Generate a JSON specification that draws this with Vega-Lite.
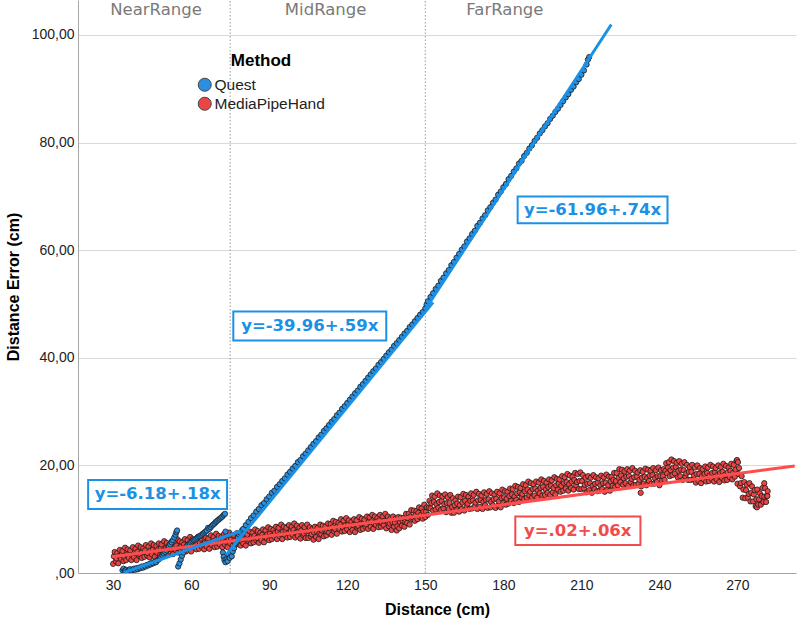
{
  "$schema": "https://vega.github.io/schema/vega-lite/v6.json",
  "width": 718,
  "height": 573,
  "autosize": "none",
  "padding": {"left": 78, "top": 0, "right": 7, "bottom": 54},
  "background": "white",
  "config": {"view": {"stroke": null}, "font": "Liberation Sans"},
  "datasets": {
    "pts": [
      {"m":"M","x":30,"y":1.7},{"m":"M","x":30.3,"y":3.1},{"m":"M","x":30.6,"y":3.9},
      {"m":"M","x":31,"y":2.2},{"m":"M","x":31.3,"y":2.7},{"m":"M","x":31.6,"y":3.7},
      {"m":"M","x":32,"y":1.8},{"m":"M","x":32.3,"y":3.2},{"m":"M","x":32.6,"y":4.3},
      {"m":"M","x":33,"y":2.6},{"m":"M","x":33.3,"y":3.4},{"m":"M","x":33.6,"y":4.1},
      {"m":"M","x":34,"y":2.2},{"m":"M","x":34.3,"y":3.0},{"m":"M","x":34.6,"y":4.7},
      {"m":"M","x":35,"y":2.4},{"m":"M","x":35.3,"y":3.5},{"m":"M","x":35.6,"y":4.4},
      {"m":"M","x":36,"y":2.8},{"m":"M","x":36.3,"y":3.7},{"m":"M","x":36.6,"y":4.2},
      {"m":"M","x":37,"y":2.4},{"m":"M","x":37.3,"y":3.3},{"m":"M","x":37.6,"y":4.8},
      {"m":"M","x":38,"y":2.9},{"m":"M","x":38.3,"y":3.8},{"m":"M","x":38.6,"y":4.5},
      {"m":"M","x":39,"y":2.4},{"m":"M","x":39.3,"y":3.9},{"m":"M","x":39.6,"y":5.1},
      {"m":"M","x":40,"y":3.2},{"m":"M","x":40.3,"y":3.5},{"m":"M","x":40.6,"y":4.8},
      {"m":"M","x":41,"y":2.8},{"m":"M","x":41.3,"y":4.0},{"m":"M","x":41.6,"y":4.6},
      {"m":"M","x":42,"y":3.0},{"m":"M","x":42.3,"y":4.2},{"m":"M","x":42.6,"y":5.2},
      {"m":"M","x":43,"y":3.3},{"m":"M","x":43.3,"y":3.7},{"m":"M","x":43.6,"y":4.9},
      {"m":"M","x":44,"y":2.9},{"m":"M","x":44.3,"y":4.2},{"m":"M","x":44.6,"y":5.5},
      {"m":"M","x":45,"y":3.4},{"m":"M","x":45.3,"y":4.4},{"m":"M","x":45.6,"y":5.2},
      {"m":"M","x":46,"y":3.0},{"m":"M","x":46.3,"y":4.0},{"m":"M","x":46.6,"y":5.0},
      {"m":"M","x":47,"y":3.7},{"m":"M","x":47.3,"y":4.4},{"m":"M","x":47.6,"y":5.5},
      {"m":"M","x":48,"y":3.3},{"m":"M","x":48.3,"y":4.6},{"m":"M","x":48.6,"y":5.3},
      {"m":"M","x":49,"y":3.5},{"m":"M","x":49.3,"y":4.2},{"m":"M","x":49.6,"y":5.9},
      {"m":"M","x":50,"y":3.9},{"m":"M","x":50.3,"y":4.7},{"m":"M","x":50.6,"y":5.6},
      {"m":"M","x":51,"y":3.4},{"m":"M","x":51.3,"y":4.8},{"m":"M","x":51.6,"y":5.3},
      {"m":"M","x":52,"y":3.9},{"m":"M","x":52.3,"y":4.4},{"m":"M","x":52.6,"y":5.9},
      {"m":"M","x":53,"y":3.5},{"m":"M","x":53.3,"y":4.9},{"m":"M","x":53.6,"y":5.7},
      {"m":"M","x":54,"y":4.3},{"m":"M","x":54.3,"y":5.1},{"m":"M","x":54.6,"y":6.3},
      {"m":"M","x":55,"y":3.8},{"m":"M","x":55.3,"y":4.6},{"m":"M","x":55.6,"y":5.9},
      {"m":"M","x":56,"y":4.0},{"m":"M","x":56.3,"y":5.1},{"m":"M","x":56.6,"y":5.7},
      {"m":"M","x":57,"y":4.4},{"m":"M","x":57.3,"y":5.3},{"m":"M","x":57.6,"y":6.3},
      {"m":"M","x":58,"y":4.0},{"m":"M","x":58.3,"y":4.9},{"m":"M","x":58.6,"y":6.1},
      {"m":"M","x":59,"y":4.5},{"m":"M","x":59.3,"y":5.4},{"m":"M","x":59.6,"y":6.7},
      {"m":"M","x":60,"y":4.0},{"m":"M","x":60.3,"y":5.5},{"m":"M","x":60.6,"y":6.3},
      {"m":"M","x":61,"y":4.8},{"m":"M","x":61.3,"y":5.1},{"m":"M","x":61.6,"y":6.1},
      {"m":"M","x":62,"y":4.4},{"m":"M","x":62.3,"y":5.6},{"m":"M","x":62.6,"y":6.7},
      {"m":"M","x":63,"y":4.5},{"m":"M","x":63.3,"y":5.7},{"m":"M","x":63.6,"y":6.4},
      {"m":"M","x":64,"y":4.9},{"m":"M","x":64.3,"y":5.3},{"m":"M","x":64.6,"y":7.0},
      {"m":"M","x":65,"y":4.4},{"m":"M","x":65.3,"y":5.7},{"m":"M","x":65.6,"y":6.6},
      {"m":"M","x":66,"y":4.9},{"m":"M","x":66.3,"y":5.9},{"m":"M","x":66.6,"y":6.4},
      {"m":"M","x":67,"y":4.5},{"m":"M","x":67.3,"y":5.5},{"m":"M","x":67.6,"y":7.0},
      {"m":"M","x":68,"y":5.2},{"m":"M","x":68.3,"y":5.9},{"m":"M","x":68.6,"y":6.7},
      {"m":"M","x":69,"y":4.8},{"m":"M","x":69.3,"y":6.1},{"m":"M","x":69.6,"y":7.3},
      {"m":"M","x":70,"y":4.9},{"m":"M","x":70.3,"y":5.6},{"m":"M","x":70.6,"y":6.9},
      {"m":"M","x":71,"y":5.3},{"m":"M","x":71.3,"y":6.1},{"m":"M","x":71.6,"y":6.7},
      {"m":"M","x":72,"y":4.8},{"m":"M","x":72.3,"y":6.2},{"m":"M","x":72.6,"y":7.2},
      {"m":"M","x":73,"y":5.3},{"m":"M","x":73.3,"y":5.8},{"m":"M","x":73.6,"y":7.0},
      {"m":"M","x":74,"y":4.8},{"m":"M","x":74.3,"y":6.2},{"m":"M","x":74.6,"y":7.5},
      {"m":"M","x":75,"y":5.5},{"m":"M","x":75.3,"y":6.3},{"m":"M","x":75.6,"y":7.1},
      {"m":"M","x":76,"y":5.1},{"m":"M","x":76.3,"y":5.9},{"m":"M","x":76.6,"y":6.9},
      {"m":"M","x":77,"y":5.2},{"m":"M","x":77.3,"y":6.3},{"m":"M","x":77.6,"y":7.4},
      {"m":"M","x":78,"y":5.5},{"m":"M","x":78.3,"y":6.4},{"m":"M","x":78.6,"y":7.1},
      {"m":"M","x":79,"y":5.1},{"m":"M","x":79.3,"y":6.0},{"m":"M","x":79.6,"y":7.7},
      {"m":"M","x":80,"y":5.5},{"m":"M","x":80.3,"y":6.4},{"m":"M","x":80.6,"y":7.3},
      {"m":"M","x":81,"y":5.1},{"m":"M","x":81.3,"y":6.6},{"m":"M","x":81.6,"y":7.1},
      {"m":"M","x":82,"y":5.9},{"m":"M","x":82.3,"y":6.2},{"m":"M","x":82.6,"y":7.7},
      {"m":"M","x":83,"y":5.5},{"m":"M","x":83.3,"y":6.7},{"m":"M","x":83.6,"y":7.5},
      {"m":"M","x":84,"y":5.7},{"m":"M","x":84.3,"y":6.9},{"m":"M","x":84.6,"y":8.1},
      {"m":"M","x":85,"y":6.1},{"m":"M","x":85.3,"y":6.5},{"m":"M","x":85.6,"y":7.8},
      {"m":"M","x":86,"y":5.6},{"m":"M","x":86.3,"y":6.9},{"m":"M","x":86.6,"y":7.5},
      {"m":"M","x":87,"y":6.1},{"m":"M","x":87.3,"y":7.1},{"m":"M","x":87.6,"y":8.1},
      {"m":"M","x":88,"y":5.7},{"m":"M","x":88.3,"y":6.7},{"m":"M","x":88.6,"y":7.9},
      {"m":"M","x":89,"y":6.5},{"m":"M","x":89.3,"y":7.2},{"m":"M","x":89.6,"y":8.5},
      {"m":"M","x":90,"y":6.1},{"m":"M","x":90.3,"y":7.4},{"m":"M","x":90.6,"y":8.2},
      {"m":"M","x":91,"y":6.3},{"m":"M","x":91.3,"y":7.0},{"m":"M","x":91.6,"y":8.0},
      {"m":"M","x":92,"y":6.7},{"m":"M","x":92.3,"y":7.5},{"m":"M","x":92.6,"y":8.6},
      {"m":"M","x":93,"y":6.3},{"m":"M","x":93.3,"y":7.7},{"m":"M","x":93.6,"y":8.4},
      {"m":"M","x":94,"y":6.8},{"m":"M","x":94.3,"y":7.3},{"m":"M","x":94.6,"y":9.0},
      {"m":"M","x":95,"y":6.3},{"m":"M","x":95.3,"y":7.7},{"m":"M","x":95.6,"y":8.6},
      {"m":"M","x":96,"y":7.1},{"m":"M","x":96.3,"y":7.9},{"m":"M","x":96.6,"y":8.4},
      {"m":"M","x":97,"y":6.6},{"m":"M","x":97.3,"y":7.4},{"m":"M","x":97.6,"y":8.9},
      {"m":"M","x":98,"y":6.7},{"m":"M","x":98.3,"y":7.8},{"m":"M","x":98.6,"y":8.6},
      {"m":"M","x":99,"y":7.1},{"m":"M","x":99.3,"y":8.0},{"m":"M","x":99.6,"y":9.2},
      {"m":"M","x":100,"y":6.6},{"m":"M","x":100.3,"y":7.5},{"m":"M","x":100.6,"y":8.8},
      {"m":"M","x":101,"y":6.9},{"m":"M","x":101.3,"y":7.8},{"m":"M","x":101.6,"y":8.4},
      {"m":"M","x":102,"y":6.4},{"m":"M","x":102.3,"y":7.9},{"m":"M","x":102.6,"y":8.9},
      {"m":"M","x":103,"y":7.0},{"m":"M","x":103.3,"y":7.3},{"m":"M","x":103.6,"y":8.5},
      {"m":"M","x":104,"y":6.5},{"m":"M","x":104.3,"y":7.7},{"m":"M","x":104.6,"y":9.0},
      {"m":"M","x":105,"y":6.5},{"m":"M","x":105.3,"y":7.7},{"m":"M","x":105.6,"y":8.5},
      {"m":"M","x":106,"y":6.8},{"m":"M","x":106.3,"y":7.2},{"m":"M","x":106.6,"y":8.2},
      {"m":"M","x":107,"y":6.2},{"m":"M","x":107.3,"y":7.5},{"m":"M","x":107.6,"y":8.6},
      {"m":"M","x":108,"y":6.7},{"m":"M","x":108.3,"y":7.7},{"m":"M","x":108.6,"y":8.4},
      {"m":"M","x":109,"y":6.3},{"m":"M","x":109.3,"y":7.3},{"m":"M","x":109.6,"y":9.0},
      {"m":"M","x":110,"y":7.2},{"m":"M","x":110.3,"y":7.9},{"m":"M","x":110.6,"y":8.8},
      {"m":"M","x":111,"y":6.8},{"m":"M","x":111.3,"y":8.1},{"m":"M","x":111.6,"y":8.6},
      {"m":"M","x":112,"y":7.0},{"m":"M","x":112.3,"y":7.7},{"m":"M","x":112.6,"y":9.2},
      {"m":"M","x":113,"y":7.5},{"m":"M","x":113.3,"y":8.3},{"m":"M","x":113.6,"y":9.1},
      {"m":"M","x":114,"y":7.1},{"m":"M","x":114.3,"y":8.5},{"m":"M","x":114.6,"y":9.7},
      {"m":"M","x":115,"y":7.7},{"m":"M","x":115.3,"y":8.2},{"m":"M","x":115.6,"y":9.5},
      {"m":"M","x":116,"y":7.3},{"m":"M","x":116.3,"y":8.7},{"m":"M","x":116.6,"y":9.3},
      {"m":"M","x":117,"y":8.2},{"m":"M","x":117.3,"y":9.0},{"m":"M","x":117.6,"y":10.0},
      {"m":"M","x":118,"y":7.7},{"m":"M","x":118.3,"y":8.5},{"m":"M","x":118.6,"y":9.7},
      {"m":"M","x":119,"y":7.8},{"m":"M","x":119.3,"y":8.9},{"m":"M","x":119.6,"y":10.2},
      {"m":"M","x":120,"y":8.1},{"m":"M","x":120.3,"y":9.0},{"m":"M","x":120.6,"y":9.8},
      {"m":"M","x":121,"y":7.6},{"m":"M","x":121.3,"y":8.5},{"m":"M","x":121.6,"y":9.5},
      {"m":"M","x":122,"y":8.0},{"m":"M","x":122.3,"y":8.9},{"m":"M","x":122.6,"y":10.0},
      {"m":"M","x":123,"y":7.6},{"m":"M","x":123.3,"y":9.1},{"m":"M","x":123.6,"y":9.8},
      {"m":"M","x":124,"y":8.4},{"m":"M","x":124.3,"y":8.7},{"m":"M","x":124.6,"y":10.4},
      {"m":"M","x":125,"y":8.0},{"m":"M","x":125.3,"y":9.2},{"m":"M","x":125.6,"y":10.1},
      {"m":"M","x":126,"y":8.2},{"m":"M","x":126.3,"y":9.4},{"m":"M","x":126.6,"y":9.9},
      {"m":"M","x":127,"y":8.6},{"m":"M","x":127.3,"y":9.0},{"m":"M","x":127.6,"y":10.5},
      {"m":"M","x":128,"y":8.2},{"m":"M","x":128.3,"y":9.5},{"m":"M","x":128.6,"y":10.3},
      {"m":"M","x":129,"y":8.6},{"m":"M","x":129.3,"y":9.6},{"m":"M","x":129.6,"y":10.8},
      {"m":"M","x":130,"y":8.2},{"m":"M","x":130.3,"y":9.2},{"m":"M","x":130.6,"y":10.5},
      {"m":"M","x":131,"y":8.9},{"m":"M","x":131.3,"y":9.6},{"m":"M","x":131.6,"y":10.2},
      {"m":"M","x":132,"y":8.5},{"m":"M","x":132.3,"y":9.8},{"m":"M","x":132.6,"y":10.8},
      {"m":"M","x":133,"y":8.6},{"m":"M","x":133.3,"y":9.3},{"m":"M","x":133.6,"y":10.5},
      {"m":"M","x":134,"y":8.9},{"m":"M","x":134.3,"y":9.7},{"m":"M","x":134.6,"y":11.0},
      {"m":"M","x":135,"y":8.3},{"m":"M","x":135.3,"y":9.7},{"m":"M","x":135.6,"y":10.5},
      {"m":"M","x":136,"y":8.7},{"m":"M","x":136.3,"y":9.2},{"m":"M","x":136.6,"y":10.2},
      {"m":"M","x":137,"y":8.0},{"m":"M","x":137.3,"y":9.4},{"m":"M","x":137.6,"y":10.5},
      {"m":"M","x":138,"y":8.6},{"m":"M","x":138.3,"y":9.4},{"m":"M","x":138.6,"y":10.1},
      {"m":"M","x":139,"y":7.9},{"m":"M","x":139.3,"y":8.7},{"m":"M","x":139.6,"y":10.4},
      {"m":"M","x":140,"y":8.3},{"m":"M","x":140.3,"y":9.4},{"m":"M","x":140.6,"y":10.3},
      {"m":"M","x":141,"y":8.8},{"m":"M","x":141.3,"y":9.7},{"m":"M","x":141.6,"y":10.2},
      {"m":"M","x":142,"y":8.6},{"m":"M","x":142.3,"y":9.5},{"m":"M","x":142.6,"y":11.0},
      {"m":"M","x":143,"y":9.3},{"m":"M","x":143.3,"y":10.2},{"m":"M","x":143.6,"y":11.0},
      {"m":"M","x":144,"y":9.0},{"m":"M","x":144.3,"y":10.5},{"m":"M","x":144.6,"y":11.7},
      {"m":"M","x":145,"y":10.0},{"m":"M","x":145.3,"y":10.3},{"m":"M","x":145.6,"y":11.6},
      {"m":"M","x":146,"y":9.7},{"m":"M","x":146.3,"y":10.9},{"m":"M","x":146.6,"y":11.5},
      {"m":"M","x":147,"y":10.0},{"m":"M","x":147.3,"y":11.2},{"m":"M","x":147.6,"y":12.2},
      {"m":"M","x":148,"y":10.4},{"m":"M","x":148.3,"y":10.8},{"m":"M","x":148.6,"y":12.0},
      {"m":"M","x":149,"y":10.1},{"m":"M","x":149.3,"y":11.4},{"m":"M","x":149.6,"y":12.7},
      {"m":"M","x":150,"y":10.4},{"m":"M","x":150.3,"y":11.4},{"m":"M","x":150.6,"y":12.2},
      {"m":"M","x":151,"y":10.8},{"m":"M","x":151.3,"y":12.1},{"m":"M","x":151.6,"y":13.4},
      {"m":"M","x":152,"y":12.0},{"m":"M","x":152.3,"y":13.0},{"m":"M","x":152.6,"y":14.4},
      {"m":"M","x":153,"y":11.6},{"m":"M","x":153.3,"y":13.2},{"m":"M","x":153.6,"y":14.2},
      {"m":"M","x":154,"y":11.8},{"m":"M","x":154.3,"y":12.8},{"m":"M","x":154.6,"y":14.8},
      {"m":"M","x":155,"y":12.1},{"m":"M","x":155.3,"y":13.2},{"m":"M","x":155.6,"y":14.4},
      {"m":"M","x":156,"y":11.7},{"m":"M","x":156.3,"y":13.4},{"m":"M","x":156.6,"y":14.2},
      {"m":"M","x":157,"y":12.0},{"m":"M","x":157.3,"y":12.8},{"m":"M","x":157.6,"y":14.6},
      {"m":"M","x":158,"y":11.3},{"m":"M","x":158.3,"y":13.0},{"m":"M","x":158.6,"y":14.1},
      {"m":"M","x":159,"y":11.9},{"m":"M","x":159.3,"y":13.0},{"m":"M","x":159.6,"y":14.5},
      {"m":"M","x":160,"y":11.2},{"m":"M","x":160.3,"y":12.3},{"m":"M","x":160.6,"y":13.9},
      {"m":"M","x":161,"y":11.2},{"m":"M","x":161.3,"y":12.6},{"m":"M","x":161.6,"y":13.5},
      {"m":"M","x":162,"y":11.7},{"m":"M","x":162.3,"y":12.9},{"m":"M","x":162.6,"y":14.2},
      {"m":"M","x":163,"y":11.4},{"m":"M","x":163.3,"y":12.6},{"m":"M","x":163.6,"y":14.1},
      {"m":"M","x":164,"y":11.9},{"m":"M","x":164.3,"y":13.1},{"m":"M","x":164.6,"y":14.7},
      {"m":"M","x":165,"y":11.6},{"m":"M","x":165.3,"y":13.4},{"m":"M","x":165.6,"y":14.5},
      {"m":"M","x":166,"y":12.3},{"m":"M","x":166.3,"y":12.9},{"m":"M","x":166.6,"y":14.2},
      {"m":"M","x":167,"y":11.9},{"m":"M","x":167.3,"y":13.4},{"m":"M","x":167.6,"y":14.8},
      {"m":"M","x":168,"y":12.0},{"m":"M","x":168.3,"y":13.5},{"m":"M","x":168.6,"y":14.5},
      {"m":"M","x":169,"y":12.4},{"m":"M","x":169.3,"y":13.1},{"m":"M","x":169.6,"y":15.1},
      {"m":"M","x":170,"y":11.9},{"m":"M","x":170.3,"y":13.5},{"m":"M","x":170.6,"y":14.7},
      {"m":"M","x":171,"y":12.3},{"m":"M","x":171.3,"y":13.6},{"m":"M","x":171.6,"y":14.4},
      {"m":"M","x":172,"y":11.9},{"m":"M","x":172.3,"y":13.2},{"m":"M","x":172.6,"y":15.0},
      {"m":"M","x":173,"y":12.6},{"m":"M","x":173.3,"y":13.6},{"m":"M","x":173.6,"y":14.7},
      {"m":"M","x":174,"y":12.1},{"m":"M","x":174.3,"y":13.7},{"m":"M","x":174.6,"y":15.2},
      {"m":"M","x":175,"y":12.2},{"m":"M","x":175.3,"y":13.2},{"m":"M","x":175.6,"y":14.8},
      {"m":"M","x":176,"y":12.6},{"m":"M","x":176.3,"y":13.7},{"m":"M","x":176.6,"y":14.6},
      {"m":"M","x":177,"y":12.1},{"m":"M","x":177.3,"y":13.8},{"m":"M","x":177.6,"y":15.1},
      {"m":"M","x":178,"y":12.5},{"m":"M","x":178.3,"y":13.3},{"m":"M","x":178.6,"y":14.8},
      {"m":"M","x":179,"y":12.2},{"m":"M","x":179.3,"y":13.9},{"m":"M","x":179.6,"y":15.5},
      {"m":"M","x":180,"y":13.0},{"m":"M","x":180.3,"y":14.1},{"m":"M","x":180.6,"y":15.2},
      {"m":"M","x":181,"y":12.7},{"m":"M","x":181.3,"y":13.8},{"m":"M","x":181.6,"y":15.1},
      {"m":"M","x":182,"y":12.9},{"m":"M","x":182.3,"y":14.3},{"m":"M","x":182.6,"y":15.7},
      {"m":"M","x":183,"y":13.4},{"m":"M","x":183.3,"y":14.6},{"m":"M","x":183.6,"y":15.6},
      {"m":"M","x":184,"y":13.0},{"m":"M","x":184.3,"y":14.2},{"m":"M","x":184.6,"y":16.2},
      {"m":"M","x":185,"y":13.6},{"m":"M","x":185.3,"y":14.8},{"m":"M","x":185.6,"y":16.0},
      {"m":"M","x":186,"y":13.2},{"m":"M","x":186.3,"y":15.0},{"m":"M","x":186.6,"y":15.8},
      {"m":"M","x":187,"y":14.1},{"m":"M","x":187.3,"y":14.7},{"m":"M","x":187.6,"y":16.5},
      {"m":"M","x":188,"y":13.7},{"m":"M","x":188.3,"y":15.2},{"m":"M","x":188.6,"y":16.3},
      {"m":"M","x":189,"y":14.0},{"m":"M","x":189.3,"y":15.5},{"m":"M","x":189.6,"y":17.0},
      {"m":"M","x":190,"y":14.4},{"m":"M","x":190.3,"y":15.1},{"m":"M","x":190.6,"y":16.7},
      {"m":"M","x":191,"y":14.0},{"m":"M","x":191.3,"y":15.6},{"m":"M","x":191.6,"y":16.5},
      {"m":"M","x":192,"y":14.4},{"m":"M","x":192.3,"y":15.7},{"m":"M","x":192.6,"y":17.0},
      {"m":"M","x":193,"y":14.0},{"m":"M","x":193.3,"y":15.3},{"m":"M","x":193.6,"y":16.8},
      {"m":"M","x":194,"y":14.8},{"m":"M","x":194.3,"y":15.8},{"m":"M","x":194.6,"y":17.4},
      {"m":"M","x":195,"y":14.4},{"m":"M","x":195.3,"y":16.0},{"m":"M","x":195.6,"y":17.1},
      {"m":"M","x":196,"y":14.5},{"m":"M","x":196.3,"y":15.5},{"m":"M","x":196.6,"y":16.8},
      {"m":"M","x":197,"y":14.9},{"m":"M","x":197.3,"y":16.0},{"m":"M","x":197.6,"y":17.4},
      {"m":"M","x":198,"y":14.5},{"m":"M","x":198.3,"y":16.2},{"m":"M","x":198.6,"y":17.2},
      {"m":"M","x":199,"y":15.0},{"m":"M","x":199.3,"y":15.8},{"m":"M","x":199.6,"y":17.8},
      {"m":"M","x":200,"y":14.6},{"m":"M","x":200.3,"y":16.3},{"m":"M","x":200.6,"y":17.5},
      {"m":"M","x":201,"y":15.5},{"m":"M","x":201.3,"y":16.6},{"m":"M","x":201.6,"y":17.4},
      {"m":"M","x":202,"y":15.1},{"m":"M","x":202.3,"y":16.2},{"m":"M","x":202.6,"y":18.0},
      {"m":"M","x":203,"y":15.3},{"m":"M","x":203.3,"y":16.7},{"m":"M","x":203.6,"y":17.8},
      {"m":"M","x":204,"y":15.7},{"m":"M","x":204.3,"y":16.9},{"m":"M","x":204.6,"y":18.4},
      {"m":"M","x":205,"y":15.3},{"m":"M","x":205.3,"y":16.5},{"m":"M","x":205.6,"y":18.1},
      {"m":"M","x":206,"y":15.8},{"m":"M","x":206.3,"y":17.0},{"m":"M","x":206.6,"y":17.9},
      {"m":"M","x":207,"y":15.5},{"m":"M","x":207.3,"y":17.3},{"m":"M","x":207.6,"y":18.6},
      {"m":"M","x":208,"y":16.3},{"m":"M","x":208.3,"y":16.9},{"m":"M","x":208.6,"y":18.4},
      {"m":"M","x":209,"y":15.6},{"m":"M","x":209.3,"y":17.1},{"m":"M","x":209.6,"y":18.7},
      {"m":"M","x":210,"y":15.6},{"m":"M","x":210.3,"y":17.1},{"m":"M","x":210.6,"y":18.2},
      {"m":"M","x":211,"y":15.7},{"m":"M","x":211.3,"y":16.4},{"m":"M","x":211.6,"y":17.7},
      {"m":"M","x":212,"y":15.0},{"m":"M","x":212.3,"y":16.6},{"m":"M","x":212.6,"y":18.0},
      {"m":"M","x":213,"y":15.4},{"m":"M","x":213.3,"y":16.7},{"m":"M","x":213.6,"y":17.7},
      {"m":"M","x":214,"y":14.9},{"m":"M","x":214.3,"y":16.2},{"m":"M","x":214.6,"y":18.2},
      {"m":"M","x":215,"y":15.6},{"m":"M","x":215.3,"y":16.6},{"m":"M","x":215.6,"y":17.8},
      {"m":"M","x":216,"y":15.2},{"m":"M","x":216.3,"y":16.8},{"m":"M","x":216.6,"y":17.6},
      {"m":"M","x":217,"y":15.3},{"m":"M","x":217.3,"y":16.3},{"m":"M","x":217.6,"y":18.1},
      {"m":"M","x":218,"y":15.6},{"m":"M","x":218.3,"y":16.7},{"m":"M","x":218.6,"y":17.8},
      {"m":"M","x":219,"y":15.1},{"m":"M","x":219.3,"y":16.8},{"m":"M","x":219.6,"y":18.3},
      {"m":"M","x":220,"y":15.5},{"m":"M","x":220.3,"y":16.3},{"m":"M","x":220.6,"y":17.9},
      {"m":"M","x":221,"y":15.3},{"m":"M","x":221.3,"y":17.0},{"m":"M","x":221.6,"y":17.9},
      {"m":"M","x":222,"y":16.2},{"m":"M","x":222.3,"y":17.3},{"m":"M","x":222.6,"y":18.6},
      {"m":"M","x":223,"y":16.0},{"m":"M","x":223.3,"y":17.1},{"m":"M","x":223.6,"y":18.6},
      {"m":"M","x":224,"y":16.3},{"m":"M","x":224.3,"y":17.7},{"m":"M","x":224.6,"y":19.3},
      {"m":"M","x":225,"y":16.9},{"m":"M","x":225.3,"y":18.1},{"m":"M","x":225.6,"y":19.2},
      {"m":"M","x":226,"y":16.4},{"m":"M","x":226.3,"y":17.6},{"m":"M","x":226.6,"y":18.9},
      {"m":"M","x":227,"y":16.7},{"m":"M","x":227.3,"y":17.9},{"m":"M","x":227.6,"y":19.3},
      {"m":"M","x":228,"y":16.2},{"m":"M","x":228.3,"y":18.0},{"m":"M","x":228.6,"y":19.0},
      {"m":"M","x":229,"y":16.9},{"m":"M","x":229.3,"y":17.5},{"m":"M","x":229.6,"y":19.5},
      {"m":"M","x":230,"y":16.3},{"m":"M","x":230.3,"y":17.8},{"m":"M","x":230.6,"y":19.0},
      {"m":"M","x":231,"y":16.4},{"m":"M","x":231.3,"y":17.9},{"m":"M","x":231.6,"y":18.7},
      {"m":"M","x":232,"y":16.6},{"m":"M","x":232.3,"y":17.3},{"m":"M","x":232.6,"y":19.1},
      {"m":"M","x":232.8,"y":14.9},
      {"m":"M","x":233,"y":16.1},{"m":"M","x":233.3,"y":17.7},{"m":"M","x":233.6,"y":18.8},
      {"m":"M","x":234,"y":16.6},{"m":"M","x":234.3,"y":17.9},{"m":"M","x":234.6,"y":19.4},
      {"m":"M","x":235,"y":16.3},{"m":"M","x":235.3,"y":17.6},{"m":"M","x":235.6,"y":19.2},
      {"m":"M","x":236,"y":17.1},{"m":"M","x":236.3,"y":18.1},{"m":"M","x":236.6,"y":19.0},
      {"m":"M","x":237,"y":16.6},{"m":"M","x":237.3,"y":18.2},{"m":"M","x":237.6,"y":19.5},
      {"m":"M","x":238,"y":16.6},{"m":"M","x":238.3,"y":17.6},{"m":"M","x":238.6,"y":19.1},
      {"m":"M","x":239,"y":16.9},{"m":"M","x":239.3,"y":18.0},{"m":"M","x":239.6,"y":19.6},
      {"m":"M","x":240,"y":16.3},{"m":"M","x":240.3,"y":18.0},{"m":"M","x":240.6,"y":19.1},
      {"m":"M","x":241,"y":17.2},{"m":"M","x":241.3,"y":18.0},{"m":"M","x":241.6,"y":19.3},
      {"m":"M","x":242,"y":17.3},{"m":"M","x":242.3,"y":19.0},{"m":"M","x":242.6,"y":20.4},
      {"m":"M","x":243,"y":18.5},{"m":"M","x":243.3,"y":19.6},{"m":"M","x":243.6,"y":20.6},
      {"m":"M","x":244,"y":18.0},{"m":"M","x":244.3,"y":19.1},{"m":"M","x":244.6,"y":21.1},
      {"m":"M","x":245,"y":18.2},{"m":"M","x":245.3,"y":19.6},{"m":"M","x":245.6,"y":20.8},
      {"m":"M","x":246,"y":18.5},{"m":"M","x":246.3,"y":19.7},{"m":"M","x":246.6,"y":20.5},
      {"m":"M","x":247,"y":17.8},{"m":"M","x":247.3,"y":19.0},{"m":"M","x":247.6,"y":20.8},
      {"m":"M","x":248,"y":18.0},{"m":"M","x":248.3,"y":19.2},{"m":"M","x":248.6,"y":20.3},
      {"m":"M","x":249,"y":17.3},{"m":"M","x":249.3,"y":19.1},{"m":"M","x":249.6,"y":20.6},
      {"m":"M","x":250,"y":17.9},{"m":"M","x":250.3,"y":18.5},{"m":"M","x":250.6,"y":20.1},
      {"m":"M","x":251,"y":17.3},{"m":"M","x":251.3,"y":18.8},{"m":"M","x":251.6,"y":19.7},
      {"m":"M","x":252,"y":17.3},{"m":"M","x":252.3,"y":18.8},{"m":"M","x":252.6,"y":20.1},
      {"m":"M","x":253,"y":17.4},{"m":"M","x":253.3,"y":18.1},{"m":"M","x":253.6,"y":19.6},
      {"m":"M","x":254,"y":16.8},{"m":"M","x":254.3,"y":18.4},{"m":"M","x":254.6,"y":20.0},
      {"m":"M","x":255,"y":17.1},{"m":"M","x":255.3,"y":18.4},{"m":"M","x":255.6,"y":19.5},
      {"m":"M","x":256,"y":16.7},{"m":"M","x":256.3,"y":18.0},{"m":"M","x":256.6,"y":19.3},
      {"m":"M","x":257,"y":17.4},{"m":"M","x":257.3,"y":18.4},{"m":"M","x":257.6,"y":19.8},
      {"m":"M","x":258,"y":17.0},{"m":"M","x":258.3,"y":18.6},{"m":"M","x":258.6,"y":19.6},
      {"m":"M","x":259,"y":17.1},{"m":"M","x":259.3,"y":18.1},{"m":"M","x":259.6,"y":20.1},
      {"m":"M","x":260,"y":17.5},{"m":"M","x":260.3,"y":18.6},{"m":"M","x":260.6,"y":19.8},
      {"m":"M","x":261,"y":17.0},{"m":"M","x":261.3,"y":18.7},{"m":"M","x":261.6,"y":19.5},
      {"m":"M","x":262,"y":17.4},{"m":"M","x":262.3,"y":18.2},{"m":"M","x":262.6,"y":20.0},
      {"m":"M","x":263,"y":16.9},{"m":"M","x":263.3,"y":18.6},{"m":"M","x":263.6,"y":19.7},
      {"m":"M","x":264,"y":17.7},{"m":"M","x":264.3,"y":18.8},{"m":"M","x":264.6,"y":20.3},
      {"m":"M","x":265,"y":17.2},{"m":"M","x":265.3,"y":18.3},{"m":"M","x":265.6,"y":19.9},
      {"m":"M","x":266,"y":17.3},{"m":"M","x":266.3,"y":18.7},{"m":"M","x":266.6,"y":19.6},
      {"m":"M","x":267,"y":17.8},{"m":"M","x":267.3,"y":19.0},{"m":"M","x":267.6,"y":20.3},
      {"m":"M","x":268,"y":17.4},{"m":"M","x":268.3,"y":18.6},{"m":"M","x":268.6,"y":20.1},
      {"m":"M","x":269,"y":17.9},{"m":"M","x":269.3,"y":19.2},{"m":"M","x":269.6,"y":20.8},
      {"m":"M","x":269.8,"y":21.0},{"m":"M","x":270.2,"y":20.6},
      {"m":"M","x":270,"y":16.6},{"m":"M","x":270.3,"y":18.4},{"m":"M","x":270.6,"y":19.5},
      {"m":"M","x":271,"y":16.1},{"m":"M","x":271.3,"y":16.7},{"m":"M","x":271.6,"y":18.0},
      {"m":"M","x":272,"y":14.0},{"m":"M","x":272.3,"y":15.5},{"m":"M","x":272.6,"y":16.9},
      {"m":"M","x":273,"y":13.9},{"m":"M","x":273.3,"y":15.4},{"m":"M","x":273.6,"y":16.4},
      {"m":"M","x":274,"y":14.0},{"m":"M","x":274.3,"y":14.7},{"m":"M","x":274.6,"y":16.7},
      {"m":"M","x":275,"y":13.3},{"m":"M","x":275.3,"y":14.9},{"m":"M","x":275.6,"y":16.1},
      {"m":"M","x":276,"y":13.3},{"m":"M","x":276.3,"y":14.6},{"m":"M","x":276.6,"y":15.4},
      {"m":"M","x":277,"y":12.4},{"m":"M","x":277.3,"y":13.7},{"m":"M","x":277.6,"y":15.5},
      {"m":"M","x":277.5,"y":12.2},
      {"m":"M","x":278,"y":12.7},{"m":"M","x":278.3,"y":13.7},{"m":"M","x":278.6,"y":14.8},
      {"m":"M","x":279,"y":12.7},{"m":"M","x":279.3,"y":14.3},{"m":"M","x":279.6,"y":15.8},
      {"m":"M","x":280,"y":13.2},{"m":"M","x":280.3,"y":14.2},{"m":"M","x":280.6,"y":15.8},
      {"m":"M","x":280.3,"y":16.7},
      {"m":"M","x":281,"y":13.2},{"m":"M","x":281.3,"y":14.3},{"m":"M","x":281.6,"y":15.2},
      {"m":"M","x":281.5,"y":14.3},

      {"m":"Q","x":33.6,"y":0.5},{"m":"Q","x":34,"y":0.8},{"m":"Q","x":34.5,"y":0.4},{"m":"Q","x":35,"y":0.6},
      {"m":"Q","x":35.5,"y":0.3},{"m":"Q","x":36,"y":0.5},{"m":"Q","x":36.5,"y":0.7},{"m":"Q","x":37,"y":0.4},
      {"m":"Q","x":37.5,"y":0.6},{"m":"Q","x":38,"y":0.8},{"m":"Q","x":38.5,"y":0.6},{"m":"Q","x":39,"y":0.9},
      {"m":"Q","x":39.5,"y":0.7},{"m":"Q","x":40,"y":1.0},{"m":"Q","x":40.5,"y":0.9},{"m":"Q","x":41,"y":1.2},
      {"m":"Q","x":41.5,"y":1.0},{"m":"Q","x":42,"y":1.3},{"m":"Q","x":42.5,"y":1.2},{"m":"Q","x":43,"y":1.5},
      {"m":"Q","x":43.5,"y":1.4},{"m":"Q","x":44,"y":1.7},{"m":"Q","x":44.5,"y":1.6},{"m":"Q","x":45,"y":1.9},
      {"m":"Q","x":45.5,"y":1.8},{"m":"Q","x":46,"y":2.1},{"m":"Q","x":46.5,"y":2.0},{"m":"Q","x":47,"y":2.4},
      {"m":"Q","x":47.5,"y":2.5},{"m":"Q","x":48,"y":2.8},{"m":"Q","x":48.5,"y":3.0},{"m":"Q","x":49,"y":3.3},
      {"m":"Q","x":49.5,"y":3.6},{"m":"Q","x":50,"y":3.9},{"m":"Q","x":50.5,"y":4.2},{"m":"Q","x":51,"y":4.6},
      {"m":"Q","x":51.5,"y":4.9},{"m":"Q","x":52,"y":5.3},{"m":"Q","x":52.5,"y":5.7},{"m":"Q","x":53,"y":6.1},
      {"m":"Q","x":53.5,"y":6.6},{"m":"Q","x":54,"y":7.1},{"m":"Q","x":54.3,"y":7.6},{"m":"Q","x":54.6,"y":7.9},
      {"m":"Q","x":55,"y":1.2},{"m":"Q","x":55.5,"y":1.8},{"m":"Q","x":56,"y":2.5},{"m":"Q","x":56.5,"y":3.2},
      {"m":"Q","x":57,"y":3.8},{"m":"Q","x":57.5,"y":4.3},{"m":"Q","x":58,"y":4.8},{"m":"Q","x":58.5,"y":5.1},
      {"m":"Q","x":59,"y":5.3},{"m":"Q","x":59.5,"y":5.5},{"m":"Q","x":60,"y":5.7},{"m":"Q","x":60.5,"y":5.9},
      {"m":"Q","x":61,"y":6.1},{"m":"Q","x":61.5,"y":6.2},{"m":"Q","x":62,"y":6.4},{"m":"Q","x":62.5,"y":6.6},
      {"m":"Q","x":63,"y":6.8},{"m":"Q","x":63.5,"y":6.9},{"m":"Q","x":64,"y":7.1},{"m":"Q","x":64.5,"y":7.3},
      {"m":"Q","x":65,"y":7.5},{"m":"Q","x":65.5,"y":7.7},{"m":"Q","x":66,"y":7.9},{"m":"Q","x":66.5,"y":8.4},
      {"m":"Q","x":67,"y":8.2},{"m":"Q","x":67.5,"y":8.5},{"m":"Q","x":68,"y":8.8},{"m":"Q","x":68.5,"y":9.0},
      {"m":"Q","x":69,"y":9.2},{"m":"Q","x":69.5,"y":9.5},{"m":"Q","x":70,"y":9.7},{"m":"Q","x":70.5,"y":9.9},
      {"m":"Q","x":71,"y":10.1},{"m":"Q","x":71.5,"y":10.3},{"m":"Q","x":72,"y":10.5},{"m":"Q","x":72.5,"y":10.8},
      {"m":"Q","x":73,"y":11.0},{"m":"Q","x":73.2,"y":7.7},
      {"m":"Q","x":72.2,"y":3.8},{"m":"Q","x":72.5,"y":3.0},{"m":"Q","x":72.8,"y":2.4},{"m":"Q","x":73.2,"y":2.0},
      {"m":"Q","x":73.6,"y":2.6},{"m":"Q","x":74,"y":2.2},{"m":"Q","x":74.4,"y":3.2},{"m":"Q","x":74.8,"y":2.8},
      {"m":"Q","x":75.2,"y":3.6},{"m":"Q","x":75.6,"y":3.1},{"m":"Q","x":76,"y":4.0},
      {"m":"Q","x":76.5,"y":4.6},{"m":"Q","x":77,"y":5.6},{"m":"Q","x":77.5,"y":6.0},{"m":"Q","x":78,"y":6.6},
      {"m":"Q","x":78.5,"y":7.1},{"m":"Q","x":79,"y":7.5},{"m":"Q","x":79.5,"y":7.9},{"m":"Q","x":80,"y":8.2},
      {"m":"Q","x":81,"y":8.9},{"m":"Q","x":82,"y":9.5},{"m":"Q","x":83,"y":10.2},{"m":"Q","x":84,"y":10.7},
      {"m":"Q","x":85,"y":11.4},{"m":"Q","x":86,"y":11.9},{"m":"Q","x":87,"y":12.6},{"m":"Q","x":88,"y":13.0},
      {"m":"Q","x":89,"y":13.7},{"m":"Q","x":90,"y":14.2},{"m":"Q","x":91,"y":14.9},{"m":"Q","x":92,"y":15.3},
      {"m":"Q","x":93,"y":16.0},{"m":"Q","x":94,"y":16.5},{"m":"Q","x":95,"y":17.1},{"m":"Q","x":96,"y":17.6},
      {"m":"Q","x":97,"y":18.3},{"m":"Q","x":98,"y":18.8},{"m":"Q","x":99,"y":19.4},{"m":"Q","x":100,"y":19.9},
      {"m":"Q","x":101,"y":20.6},{"m":"Q","x":102,"y":21.0},{"m":"Q","x":103,"y":21.7},{"m":"Q","x":104,"y":22.2},
      {"m":"Q","x":105,"y":22.8},{"m":"Q","x":106,"y":23.4},{"m":"Q","x":107,"y":24.0},{"m":"Q","x":108,"y":24.5},
      {"m":"Q","x":109,"y":25.2},{"m":"Q","x":110,"y":25.7},{"m":"Q","x":111,"y":26.4},{"m":"Q","x":112,"y":26.9},
      {"m":"Q","x":113,"y":27.5},{"m":"Q","x":114,"y":28.1},{"m":"Q","x":115,"y":28.6},{"m":"Q","x":116,"y":29.3},
      {"m":"Q","x":117,"y":29.8},{"m":"Q","x":118,"y":30.5},{"m":"Q","x":119,"y":31.0},{"m":"Q","x":120,"y":31.6},
      {"m":"Q","x":121,"y":32.2},{"m":"Q","x":122,"y":32.8},{"m":"Q","x":123,"y":33.4},{"m":"Q","x":124,"y":33.9},
      {"m":"Q","x":125,"y":34.6},{"m":"Q","x":126,"y":35.1},{"m":"Q","x":127,"y":35.7},{"m":"Q","x":128,"y":36.3},
      {"m":"Q","x":129,"y":36.9},{"m":"Q","x":130,"y":37.5},{"m":"Q","x":131,"y":38.0},{"m":"Q","x":132,"y":38.7},
      {"m":"Q","x":133,"y":39.2},{"m":"Q","x":134,"y":39.8},{"m":"Q","x":135,"y":40.4},{"m":"Q","x":136,"y":41.0},
      {"m":"Q","x":137,"y":41.5},{"m":"Q","x":138,"y":42.2},{"m":"Q","x":139,"y":42.7},{"m":"Q","x":140,"y":43.3},
      {"m":"Q","x":141,"y":43.9},{"m":"Q","x":142,"y":44.5},{"m":"Q","x":143,"y":45.0},{"m":"Q","x":144,"y":45.7},
      {"m":"Q","x":145,"y":46.2},{"m":"Q","x":146,"y":46.8},{"m":"Q","x":147,"y":47.4},{"m":"Q","x":148,"y":48.0},
      {"m":"Q","x":149,"y":48.5},{"m":"Q","x":150,"y":49.2},
      {"m":"Q","x":150.5,"y":49.9},{"m":"Q","x":151,"y":50.5},{"m":"Q","x":152,"y":51.3},{"m":"Q","x":153,"y":52.0},
      {"m":"Q","x":154,"y":52.8},{"m":"Q","x":155,"y":53.4},{"m":"Q","x":156,"y":54.3},{"m":"Q","x":157,"y":54.9},
      {"m":"Q","x":158,"y":55.7},{"m":"Q","x":159,"y":56.3},{"m":"Q","x":160,"y":57.2},{"m":"Q","x":161,"y":57.8},
      {"m":"Q","x":162,"y":58.6},{"m":"Q","x":163,"y":59.3},{"m":"Q","x":164,"y":60.1},{"m":"Q","x":165,"y":60.7},
      {"m":"Q","x":166,"y":61.6},{"m":"Q","x":167,"y":62.2},{"m":"Q","x":168,"y":63.0},{"m":"Q","x":169,"y":63.6},
      {"m":"Q","x":170,"y":64.5},{"m":"Q","x":171,"y":65.1},{"m":"Q","x":172,"y":65.9},{"m":"Q","x":173,"y":66.5},
      {"m":"Q","x":174,"y":67.4},{"m":"Q","x":175,"y":68.0},{"m":"Q","x":176,"y":68.8},{"m":"Q","x":177,"y":69.4},
      {"m":"Q","x":178,"y":70.3},{"m":"Q","x":179,"y":70.9},{"m":"Q","x":180,"y":71.7},{"m":"Q","x":181,"y":72.3},
      {"m":"Q","x":182,"y":73.2},{"m":"Q","x":183,"y":73.8},{"m":"Q","x":184,"y":74.6},{"m":"Q","x":185,"y":75.2},
      {"m":"Q","x":186,"y":76.1},{"m":"Q","x":187,"y":76.6},{"m":"Q","x":188,"y":77.5},{"m":"Q","x":189,"y":78.1},
      {"m":"Q","x":190,"y":78.9},{"m":"Q","x":191,"y":79.5},{"m":"Q","x":192,"y":80.3},{"m":"Q","x":193,"y":80.9},
      {"m":"Q","x":194,"y":81.7},{"m":"Q","x":195,"y":82.3},{"m":"Q","x":196,"y":83.0},{"m":"Q","x":197,"y":83.6},
      {"m":"Q","x":198,"y":84.4},{"m":"Q","x":199,"y":85.0},{"m":"Q","x":200,"y":85.7},{"m":"Q","x":201,"y":86.3},
      {"m":"Q","x":202,"y":87.0},{"m":"Q","x":203,"y":87.7},{"m":"Q","x":204,"y":88.4},{"m":"Q","x":205,"y":89.0},
      {"m":"Q","x":206,"y":89.8},{"m":"Q","x":207,"y":90.4},{"m":"Q","x":208,"y":91.2},{"m":"Q","x":209,"y":91.8},
      {"m":"Q","x":210,"y":92.6},{"m":"Q","x":211,"y":93.4},{"m":"Q","x":212,"y":94.5},{"m":"Q","x":212.5,"y":95.4},
      {"m":"Q","x":213,"y":95.9}
    ],
    "qfit": [
      {"g":"near","x":34.3,"y":0.1},{"g":"near","x":79,"y":7.8},
      {"g":"mid","x":73.5,"y":3.4},{"g":"mid","x":153,"y":50.3},
      {"g":"far","x":150,"y":49.0},{"g":"far","x":221.5,"y":101.95}
    ],
    "mfit": [
      {"x":29.6,"y":3.0},{"x":292,"y":19.9}
    ],
    "boxes": [
      {"c":"b","x":20.4,"x2":73.8,"y":11.9,"y2":17.3},
      {"c":"b","x":76.2,"x2":135.0,"y":43.2,"y2":48.6},
      {"c":"b","x":185.5,"x2":243.1,"y":65.0,"y2":70.0},
      {"c":"r","x":184.6,"x2":232.7,"y":5.2,"y2":10.5}
    ],
    "eqs": [
      {"c":"b","x":47.1,"y":14.6,"t":"y=-6.18+.18x"},
      {"c":"b","x":105.6,"y":45.9,"t":"y=-39.96+.59x"},
      {"c":"b","x":214.3,"y":67.5,"t":"y=-61.96+.74x"},
      {"c":"r","x":208.6,"y":7.85,"t":"y=.02+.06x"}
    ],
    "ranges": [
      {"x":75,"y":0,"y2":106.5},{"x":150,"y":0,"y2":106.5}
    ],
    "rlabels": [
      {"x":46.5,"y":104.6,"t":"NearRange"},
      {"x":111.7,"y":104.6,"t":"MidRange"},
      {"x":180.6,"y":104.6,"t":"FarRange"}
    ]
  },
  "encoding": {
    "x": {
      "field": "x",
      "type": "quantitative",
      "scale": {"domain": [16.5, 292.5], "nice": false, "zero": false},
      "axis": {
        "values": [30, 60, 90, 120, 150, 180, 210, 240, 270],
        "grid": false,
        "ticks": false,
        "domainColor": "#a6a6a6",
        "labelFontSize": 14,
        "labelColor": "#222222",
        "labelPadding": 5,
        "titleFontSize": 16,
        "titleFontWeight": "bold",
        "titleColor": "#000000",
        "titlePadding": 9
      },
      "title": "Distance (cm)"
    },
    "y": {
      "field": "y",
      "type": "quantitative",
      "scale": {"domain": [0, 106.5], "nice": false, "zero": false},
      "axis": {
        "values": [0, 20, 40, 60, 80, 100],
        "grid": true,
        "gridColor": "#d9d9d9",
        "ticks": false,
        "domainColor": "#a6a6a6",
        "labelFontSize": 14,
        "labelColor": "#222222",
        "labelPadding": 4,
        "labelExpr": "datum.value == 0 ? ',00' : replace(format(datum.value, '.2f'), '.', ',')",
        "titleFontSize": 16,
        "titleFontWeight": "bold",
        "titleColor": "#000000",
        "titlePadding": 10
      },
      "title": "Distance Error (cm)"
    }
  },
  "layer": [
    {
      "data": {"name": "ranges"},
      "mark": {"type": "rule", "color": "#9a9a9a", "strokeWidth": 1, "strokeDash": [1.5, 2]},
      "encoding": {"y2": {"field": "y2"}}
    },
    {
      "data": {"name": "pts"},
      "mark": {"type": "circle", "size": 28, "opacity": 1, "stroke": "#1a1a1a", "strokeWidth": 0.8, "clip": true},
      "encoding": {
        "color": {
          "field": "m",
          "type": "nominal",
          "scale": {"domain": ["Q", "M"], "range": ["#2a8fe0", "#ea4646"]},
          "legend": {
            "title": "Method",
            "orient": "none",
            "legendX": 119,
            "legendY": 53,
            "padding": 0,
            "titleFontSize": 17,
            "titleFontWeight": "bold",
            "titleColor": "#000000",
            "titleAnchor": "middle",
            "titlePadding": 7,
            "labelFontSize": 15.5,
            "labelColor": "#222222",
            "labelOffset": 2,
            "rowPadding": 1,
            "symbolType": "circle",
            "symbolSize": 170,
            "symbolOpacity": 1,
            "symbolStrokeColor": "#444444",
            "symbolStrokeWidth": 1,
            "labelExpr": "datum.label == 'Q' ? 'Quest' : 'MediaPipeHand'"
          }
        }
      }
    },
    {
      "data": {"name": "mfit"},
      "mark": {"type": "line", "color": "#ff4d4d", "strokeWidth": 3, "clip": true},
      "encoding": {}
    },
    {
      "data": {"name": "qfit"},
      "mark": {"type": "line", "color": "#1a91e6", "strokeWidth": 3, "clip": true},
      "encoding": {"detail": {"field": "g"}}
    },
    {
      "data": {"name": "boxes"},
      "mark": {"type": "rect", "fill": "white", "strokeWidth": 2},
      "encoding": {
        "x2": {"field": "x2"},
        "y2": {"field": "y2"},
        "stroke": {"condition": {"test": "datum.c == 'r'", "value": "#f24b4b"}, "value": "#1a91e6"}
      }
    },
    {
      "data": {"name": "eqs"},
      "mark": {"type": "text", "font": "DejaVu Sans", "fontSize": 16.5, "fontWeight": "bold", "align": "center", "baseline": "middle"},
      "encoding": {
        "text": {"field": "t"},
        "color": {"condition": {"test": "datum.c == 'r'", "value": "#f24b4b"}, "value": "#1a91e6"}
      }
    },
    {
      "data": {"name": "rlabels"},
      "mark": {"type": "text", "font": "DejaVu Sans", "fontSize": 16.5, "color": "#7a7a7a", "align": "center", "baseline": "middle"},
      "encoding": {"text": {"field": "t"}}
    }
  ]
}
